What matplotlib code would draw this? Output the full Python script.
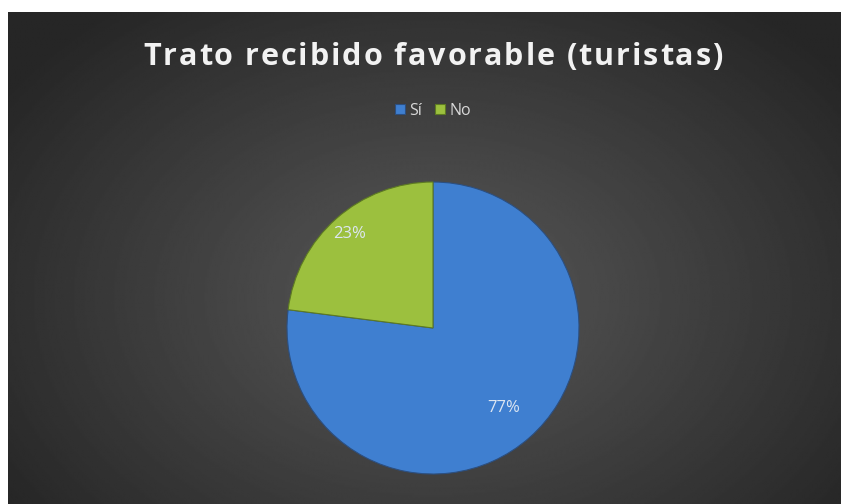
import matplotlib
matplotlib.use("Agg")
import matplotlib.pyplot as plt
import numpy as np

# chart data
categories = ["Sí", "No"]
shares = [77, 23]
colors = ["#3f7fd0", "#9cc03e"]
label_dist = [0.73, 0.86]
title = "Trato recibido favorable (turistas)"

W, H = 846, 504
fig = plt.figure(figsize=(W / 100, H / 100), dpi=100, facecolor="white")

# dark radial gradient background (chart area)
bg = fig.add_axes([8 / W, 0, (840 - 8) / W, (H - 12) / H])
yy, xx = np.mgrid[0:1:300j, 0:1:500j]
d = np.sqrt(((xx - 0.51) / 0.62) ** 2 + ((yy - 0.58) / 0.75) ** 2)
d = np.clip(d, 0, 1)
shade = 0.35 - 0.20 * d
bg.imshow(shade, cmap="gray", vmin=0, vmax=1, extent=[0, 1, 0, 1],
          aspect="auto", interpolation="bilinear")
bg.set_axis_off()

# title with letter spacing, drawn char by char
renderer = fig.canvas.get_renderer()
tkw = dict(color="#f2f2f2", fontsize=22, fontweight="bold", family="Open Sans",
           va="center", ha="left")
spacing = 1.95


def text_width(s):
    t = fig.text(0, 0, s, **tkw)
    w = t.get_window_extent(renderer).width
    t.remove()
    return w


sw = text_width("a a") - text_width("aa")
widths = [sw if ch == " " else text_width(ch) for ch in title]
total = sum(widths) + spacing * (len(title) - 1)
x = 433 - total / 2
for ch, w in zip(title, widths):
    if ch != " ":
        fig.text(x / W, 1 - 57 / H, ch, **tkw)
    x += w + spacing

# pie
cx, cy, r = 433, 328, 146
ax = fig.add_axes([(cx - r) / W, (H - cy - r) / H, 2 * r / W, 2 * r / H])
wedges, _ = ax.pie(shares, colors=colors, startangle=90, counterclock=False,
                   radius=1.0,
                   wedgeprops=dict(edgecolor="#2c4f80", linewidth=0.8))
wedges[1].set_edgecolor("#5d7a22")
for w, pct, dist in zip(wedges, shares, label_dist):
    mid = np.deg2rad((w.theta1 + w.theta2) / 2)
    ax.text(dist * np.cos(mid), dist * np.sin(mid), f"{pct}%",
            ha="center", va="center", fontsize=12, color="#dce6f2",
            family="Open Sans")
ax.set_xlim(-1.0, 1.0)
ax.set_ylim(-1.0, 1.0)
ax.set_aspect("equal")
ax.set_axis_off()

leg = fig.legend(wedges, categories, loc="center", bbox_to_anchor=(0.512, 1 - 111 / H),
                 ncol=2, frameon=False, handlelength=0.6, handleheight=0.6,
                 handletextpad=0.3, columnspacing=0.8,
                 prop=dict(family="Open Sans", size=11.5))
for t in leg.get_texts():
    t.set_color("#d9d9d9")

fig.savefig("out.png", dpi=100, facecolor="white")
